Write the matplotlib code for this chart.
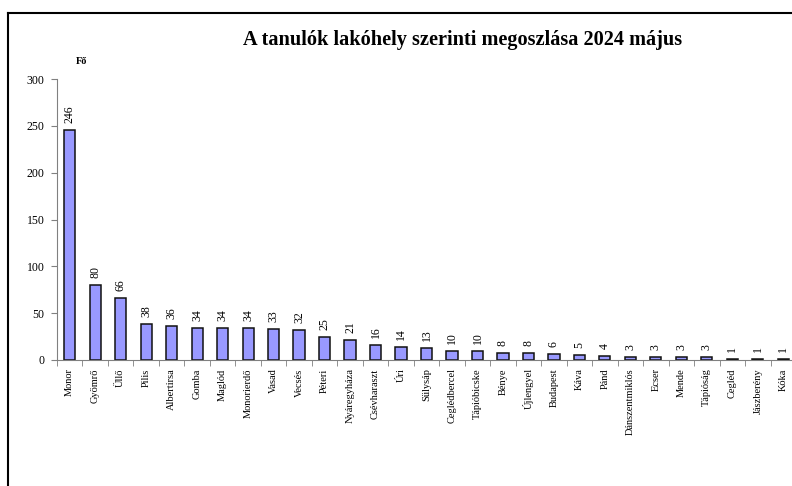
import matplotlib.pyplot as plt
from matplotlib.lines import Line2D

# Tanulók száma lakóhely szerint
telepulesek = ['Monor', 'Gyömrő', 'Üllő', 'Pilis', 'Albertirsa', 'Gomba', 'Maglód',
               'Monorierdő', 'Vasad', 'Vecsés', 'Péteri', 'Nyáregyháza', 'Csévharaszt',
               'Úri', 'Sülysáp', 'Ceglédbercel', 'Tápióbicske', 'Bénye', 'Újlengyel',
               'Budapest', 'Káva', 'Pánd', 'Dánszentmiklós', 'Ecser', 'Mende',
               'Tápióság', 'Cegléd', 'Jászberény', 'Kóka']
letszam = [246, 80, 66, 38, 36, 34, 34, 34, 33, 32, 25, 21, 16, 14, 13, 10, 10,
           8, 8, 6, 5, 4, 3, 3, 3, 3, 1, 1, 1]
y_ticks = [0, 50, 100, 150, 200, 250, 300]

plt.rcParams['font.family'] = ['Liberation Serif', 'DejaVu Serif']

fig = plt.figure(figsize=(7.92, 4.86), dpi=100)
ax = fig.add_axes([57 / 792, 1 - 360 / 486, 739 / 792, 281 / 486])

x = range(len(telepulesek))
ax.bar(x, letszam, width=0.44, color='#9999ff', edgecolor='#111111', linewidth=1.1)

for i, v in enumerate(letszam):
    ax.annotate(str(v), (i, v), xytext=(0, 5), textcoords='offset points',
                rotation=90, ha='center', va='bottom', fontsize=8.5)

ax.set_xlim(-0.5, len(telepulesek) - 0.5)
ax.set_ylim(0, 300)
ax.set_yticks(y_ticks)
ax.set_yticklabels([str(t) for t in y_ticks], fontsize=8.5)
ax.set_xticks(list(x))
ax.set_xticklabels(telepulesek, rotation=90, fontsize=7.5)
ax.tick_params(axis='x', length=0, pad=6)
ax.set_xticks([i + 0.5 for i in range(-1, len(telepulesek))], minor=True)
ax.tick_params(axis='x', which='minor', length=4, direction='out', color='#808080')
ax.tick_params(axis='y', length=4, direction='out', color='#808080', pad=5)

for s in ['top', 'right']:
    ax.spines[s].set_visible(False)
ax.spines['left'].set_color('#808080')
ax.spines['bottom'].set_color('#808080')

fig.text(82 / 792, 1 - 62 / 486, 'Fő', fontsize=7.5, fontweight='bold', ha='center', va='center')
fig.text(463 / 792, 1 - 40 / 486, 'A tanulók lakóhely szerinti megoszlása 2024 május',
         fontsize=14.6, fontweight='bold', ha='center', va='center')

# keret
fig.add_artist(Line2D([8 / 792, 8 / 792], [-0.05, 1 - 13 / 486], color='black', linewidth=1.5))
fig.add_artist(Line2D([8 / 792, 1.05], [1 - 13 / 486, 1 - 13 / 486], color='black', linewidth=1.5))

fig.savefig('out.png', dpi=100)
